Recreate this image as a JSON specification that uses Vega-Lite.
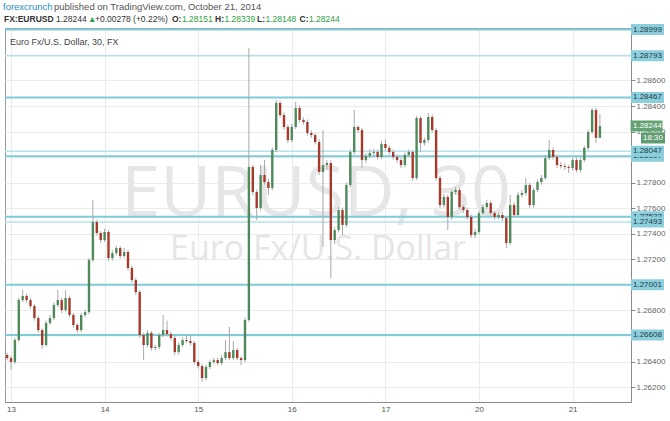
{
  "$schema": "https://vega.github.io/schema/vega-lite/v6.json",
  "width": 626,
  "height": 374,
  "padding": {"left": 5, "top": 28, "right": 39, "bottom": 19},
  "autosize": {"type": "none"},
  "background": "white",
  "config": {
    "view": {"stroke": "#9a9a9a", "strokeWidth": 1},
    "font": "Liberation Sans"
  },
  "datasets": {
    "candles": [
      {"t": -0.0417, "o": 1.26451, "h": 1.26470, "l": 1.26410, "c": 1.26427},
      {"t": 0.0000, "o": 1.26427, "h": 1.26445, "l": 1.26333, "c": 1.26396},
      {"t": 0.0417, "o": 1.26396, "h": 1.26585, "l": 1.26380, "c": 1.26568},
      {"t": 0.0833, "o": 1.26568, "h": 1.26900, "l": 1.26555, "c": 1.26881},
      {"t": 0.1250, "o": 1.26881, "h": 1.26960, "l": 1.26865, "c": 1.26913},
      {"t": 0.1667, "o": 1.26913, "h": 1.26930, "l": 1.26860, "c": 1.26881},
      {"t": 0.2083, "o": 1.26881, "h": 1.26895, "l": 1.26815, "c": 1.26834},
      {"t": 0.2500, "o": 1.26834, "h": 1.26850, "l": 1.26720, "c": 1.26740},
      {"t": 0.2917, "o": 1.26740, "h": 1.26755, "l": 1.26625, "c": 1.26646},
      {"t": 0.3333, "o": 1.26646, "h": 1.26660, "l": 1.26500, "c": 1.26529},
      {"t": 0.3750, "o": 1.26529, "h": 1.26720, "l": 1.26515, "c": 1.26701},
      {"t": 0.4167, "o": 1.26701, "h": 1.26765, "l": 1.26685, "c": 1.26740},
      {"t": 0.4583, "o": 1.26740, "h": 1.26860, "l": 1.26725, "c": 1.26842},
      {"t": 0.5000, "o": 1.26842, "h": 1.26960, "l": 1.26825, "c": 1.26881},
      {"t": 0.5417, "o": 1.26881, "h": 1.26900, "l": 1.26780, "c": 1.26803},
      {"t": 0.5833, "o": 1.26803, "h": 1.26960, "l": 1.26785, "c": 1.26897},
      {"t": 0.6250, "o": 1.26897, "h": 1.26915, "l": 1.26745, "c": 1.26764},
      {"t": 0.6667, "o": 1.26764, "h": 1.26780, "l": 1.26665, "c": 1.26686},
      {"t": 0.7083, "o": 1.26686, "h": 1.26700, "l": 1.26625, "c": 1.26646},
      {"t": 0.7500, "o": 1.26646, "h": 1.26780, "l": 1.26630, "c": 1.26764},
      {"t": 0.7917, "o": 1.26764, "h": 1.26805, "l": 1.26745, "c": 1.26787},
      {"t": 0.8333, "o": 1.26787, "h": 1.27210, "l": 1.26770, "c": 1.27194},
      {"t": 0.8750, "o": 1.27194, "h": 1.27664, "l": 1.27180, "c": 1.27492},
      {"t": 0.9167, "o": 1.27492, "h": 1.27510, "l": 1.27385, "c": 1.27406},
      {"t": 0.9583, "o": 1.27406, "h": 1.27420, "l": 1.27330, "c": 1.27351},
      {"t": 1.0000, "o": 1.27351, "h": 1.27440, "l": 1.27335, "c": 1.27414},
      {"t": 1.0417, "o": 1.27414, "h": 1.27430, "l": 1.27185, "c": 1.27210},
      {"t": 1.0833, "o": 1.27210, "h": 1.27270, "l": 1.27190, "c": 1.27249},
      {"t": 1.1250, "o": 1.27249, "h": 1.27310, "l": 1.27230, "c": 1.27288},
      {"t": 1.1667, "o": 1.27288, "h": 1.27305, "l": 1.27205, "c": 1.27226},
      {"t": 1.2083, "o": 1.27226, "h": 1.27290, "l": 1.27210, "c": 1.27257},
      {"t": 1.2500, "o": 1.27257, "h": 1.27275, "l": 1.27110, "c": 1.27132},
      {"t": 1.2917, "o": 1.27132, "h": 1.27150, "l": 1.27015, "c": 1.27038},
      {"t": 1.3333, "o": 1.27038, "h": 1.27055, "l": 1.26920, "c": 1.26944},
      {"t": 1.3750, "o": 1.26944, "h": 1.26960, "l": 1.26585, "c": 1.26607},
      {"t": 1.4167, "o": 1.26607, "h": 1.26625, "l": 1.26411, "c": 1.26529},
      {"t": 1.4583, "o": 1.26529, "h": 1.26645, "l": 1.26510, "c": 1.26623},
      {"t": 1.5000, "o": 1.26623, "h": 1.26640, "l": 1.26485, "c": 1.26506},
      {"t": 1.5417, "o": 1.26506, "h": 1.26530, "l": 1.26490, "c": 1.26513},
      {"t": 1.5833, "o": 1.26513, "h": 1.26625, "l": 1.26495, "c": 1.26607},
      {"t": 1.6250, "o": 1.26607, "h": 1.26764, "l": 1.26590, "c": 1.26646},
      {"t": 1.6667, "o": 1.26646, "h": 1.26720, "l": 1.26595, "c": 1.26615},
      {"t": 1.7083, "o": 1.26615, "h": 1.26635, "l": 1.26565, "c": 1.26584},
      {"t": 1.7500, "o": 1.26584, "h": 1.26600, "l": 1.26450, "c": 1.26474},
      {"t": 1.7917, "o": 1.26474, "h": 1.26550, "l": 1.26455, "c": 1.26529},
      {"t": 1.8333, "o": 1.26529, "h": 1.26590, "l": 1.26510, "c": 1.26568},
      {"t": 1.8750, "o": 1.26568, "h": 1.26610, "l": 1.26545, "c": 1.26560},
      {"t": 1.9167, "o": 1.26560, "h": 1.26600, "l": 1.26525, "c": 1.26545},
      {"t": 1.9583, "o": 1.26545, "h": 1.26560, "l": 1.26375, "c": 1.26396},
      {"t": 2.0000, "o": 1.26396, "h": 1.26415, "l": 1.26345, "c": 1.26364},
      {"t": 2.0417, "o": 1.26364, "h": 1.26380, "l": 1.26240, "c": 1.26271},
      {"t": 2.0833, "o": 1.26271, "h": 1.26375, "l": 1.26255, "c": 1.26357},
      {"t": 2.1250, "o": 1.26357, "h": 1.26415, "l": 1.26340, "c": 1.26396},
      {"t": 2.1667, "o": 1.26396, "h": 1.26430, "l": 1.26380, "c": 1.26411},
      {"t": 2.2083, "o": 1.26411, "h": 1.26430, "l": 1.26370, "c": 1.26388},
      {"t": 2.2500, "o": 1.26388, "h": 1.26450, "l": 1.26370, "c": 1.26427},
      {"t": 2.2917, "o": 1.26427, "h": 1.26568, "l": 1.26410, "c": 1.26474},
      {"t": 2.3333, "o": 1.26474, "h": 1.26670, "l": 1.26410, "c": 1.26427},
      {"t": 2.3750, "o": 1.26427, "h": 1.26560, "l": 1.26410, "c": 1.26490},
      {"t": 2.4167, "o": 1.26490, "h": 1.26505, "l": 1.26410, "c": 1.26427},
      {"t": 2.4583, "o": 1.26427, "h": 1.26445, "l": 1.26372, "c": 1.26411},
      {"t": 2.5000, "o": 1.26411, "h": 1.26745, "l": 1.26395, "c": 1.26725},
      {"t": 2.5417, "o": 1.26725, "h": 1.28854, "l": 1.26710, "c": 1.27923},
      {"t": 2.5833, "o": 1.27923, "h": 1.27940, "l": 1.27700, "c": 1.27727},
      {"t": 2.6250, "o": 1.27727, "h": 1.27745, "l": 1.27508, "c": 1.27602},
      {"t": 2.6667, "o": 1.27602, "h": 1.27938, "l": 1.27585, "c": 1.27860},
      {"t": 2.7083, "o": 1.27860, "h": 1.27977, "l": 1.27785, "c": 1.27805},
      {"t": 2.7500, "o": 1.27805, "h": 1.27830, "l": 1.27704, "c": 1.27758},
      {"t": 2.7917, "o": 1.27758, "h": 1.28075, "l": 1.27740, "c": 1.28056},
      {"t": 2.8333, "o": 1.28056, "h": 1.28447, "l": 1.28040, "c": 1.28424},
      {"t": 2.8750, "o": 1.28424, "h": 1.28440, "l": 1.28310, "c": 1.28330},
      {"t": 2.9167, "o": 1.28330, "h": 1.28350, "l": 1.28215, "c": 1.28236},
      {"t": 2.9583, "o": 1.28236, "h": 1.28255, "l": 1.28110, "c": 1.28134},
      {"t": 3.0000, "o": 1.28134, "h": 1.28260, "l": 1.28115, "c": 1.28236},
      {"t": 3.0417, "o": 1.28236, "h": 1.28432, "l": 1.28220, "c": 1.28385},
      {"t": 3.0833, "o": 1.28385, "h": 1.28405, "l": 1.28270, "c": 1.28291},
      {"t": 3.1250, "o": 1.28291, "h": 1.28310, "l": 1.28255, "c": 1.28275},
      {"t": 3.1667, "o": 1.28275, "h": 1.28295, "l": 1.28170, "c": 1.28189},
      {"t": 3.2083, "o": 1.28189, "h": 1.28210, "l": 1.28150, "c": 1.28173},
      {"t": 3.2500, "o": 1.28173, "h": 1.28190, "l": 1.28100, "c": 1.28118},
      {"t": 3.2917, "o": 1.28118, "h": 1.28140, "l": 1.27860, "c": 1.27884},
      {"t": 3.3333, "o": 1.27884, "h": 1.28212, "l": 1.27296, "c": 1.27938},
      {"t": 3.3750, "o": 1.27938, "h": 1.27975, "l": 1.27900, "c": 1.27954},
      {"t": 3.4167, "o": 1.27954, "h": 1.27975, "l": 1.27054, "c": 1.27351},
      {"t": 3.4583, "o": 1.27351, "h": 1.27450, "l": 1.27320, "c": 1.27429},
      {"t": 3.5000, "o": 1.27429, "h": 1.27610, "l": 1.27410, "c": 1.27586},
      {"t": 3.5417, "o": 1.27586, "h": 1.27605, "l": 1.27390, "c": 1.27469},
      {"t": 3.5833, "o": 1.27469, "h": 1.27800, "l": 1.27450, "c": 1.27782},
      {"t": 3.6250, "o": 1.27782, "h": 1.28060, "l": 1.27765, "c": 1.28040},
      {"t": 3.6667, "o": 1.28040, "h": 1.28369, "l": 1.28020, "c": 1.28236},
      {"t": 3.7083, "o": 1.28236, "h": 1.28250, "l": 1.28190, "c": 1.28212},
      {"t": 3.7500, "o": 1.28212, "h": 1.28230, "l": 1.27915, "c": 1.27977},
      {"t": 3.7917, "o": 1.27977, "h": 1.28030, "l": 1.27955, "c": 1.28009},
      {"t": 3.8333, "o": 1.28009, "h": 1.28060, "l": 1.27990, "c": 1.28032},
      {"t": 3.8750, "o": 1.28032, "h": 1.28065, "l": 1.28015, "c": 1.28040},
      {"t": 3.9167, "o": 1.28040, "h": 1.28060, "l": 1.27980, "c": 1.28001},
      {"t": 3.9583, "o": 1.28001, "h": 1.28125, "l": 1.27985, "c": 1.28103},
      {"t": 4.0000, "o": 1.28103, "h": 1.28140, "l": 1.28050, "c": 1.28072},
      {"t": 4.0417, "o": 1.28072, "h": 1.28090, "l": 1.28020, "c": 1.28040},
      {"t": 4.0833, "o": 1.28040, "h": 1.28060, "l": 1.27980, "c": 1.28001},
      {"t": 4.1250, "o": 1.28001, "h": 1.28020, "l": 1.27955, "c": 1.27977},
      {"t": 4.1667, "o": 1.27977, "h": 1.27995, "l": 1.27915, "c": 1.27938},
      {"t": 4.2083, "o": 1.27938, "h": 1.28035, "l": 1.27920, "c": 1.28017},
      {"t": 4.2500, "o": 1.28017, "h": 1.28060, "l": 1.28000, "c": 1.28040},
      {"t": 4.2917, "o": 1.28040, "h": 1.28055, "l": 1.27815, "c": 1.27837},
      {"t": 4.3333, "o": 1.27837, "h": 1.28325, "l": 1.27820, "c": 1.28306},
      {"t": 4.3750, "o": 1.28306, "h": 1.28320, "l": 1.28040, "c": 1.28111},
      {"t": 4.4167, "o": 1.28111, "h": 1.28155, "l": 1.28090, "c": 1.28134},
      {"t": 4.4583, "o": 1.28134, "h": 1.28346, "l": 1.28115, "c": 1.28314},
      {"t": 4.5000, "o": 1.28314, "h": 1.28335, "l": 1.28190, "c": 1.28212},
      {"t": 4.5417, "o": 1.28212, "h": 1.28230, "l": 1.27815, "c": 1.27837},
      {"t": 4.5833, "o": 1.27837, "h": 1.27855, "l": 1.27600, "c": 1.27625},
      {"t": 4.6250, "o": 1.27625, "h": 1.27710, "l": 1.27605, "c": 1.27688},
      {"t": 4.6667, "o": 1.27688, "h": 1.27705, "l": 1.27429, "c": 1.27531},
      {"t": 4.7083, "o": 1.27531, "h": 1.27745, "l": 1.27510, "c": 1.27727},
      {"t": 4.7500, "o": 1.27727, "h": 1.27765, "l": 1.27705, "c": 1.27743},
      {"t": 4.7917, "o": 1.27743, "h": 1.27760, "l": 1.27590, "c": 1.27609},
      {"t": 4.8333, "o": 1.27609, "h": 1.27625, "l": 1.27565, "c": 1.27586},
      {"t": 4.8750, "o": 1.27586, "h": 1.27605, "l": 1.27510, "c": 1.27531},
      {"t": 4.9167, "o": 1.27531, "h": 1.27550, "l": 1.27370, "c": 1.27390},
      {"t": 4.9583, "o": 1.27390, "h": 1.27440, "l": 1.27365, "c": 1.27414},
      {"t": 5.0000, "o": 1.27414, "h": 1.27580, "l": 1.27395, "c": 1.27562},
      {"t": 5.0417, "o": 1.27562, "h": 1.27630, "l": 1.27545, "c": 1.27609},
      {"t": 5.0833, "o": 1.27609, "h": 1.27665, "l": 1.27590, "c": 1.27641},
      {"t": 5.1250, "o": 1.27641, "h": 1.27660, "l": 1.27545, "c": 1.27562},
      {"t": 5.1667, "o": 1.27562, "h": 1.27580, "l": 1.27510, "c": 1.27531},
      {"t": 5.2083, "o": 1.27531, "h": 1.27565, "l": 1.27515, "c": 1.27547},
      {"t": 5.2500, "o": 1.27547, "h": 1.27570, "l": 1.27500, "c": 1.27523},
      {"t": 5.2917, "o": 1.27523, "h": 1.27540, "l": 1.27288, "c": 1.27328},
      {"t": 5.3333, "o": 1.27328, "h": 1.27704, "l": 1.27310, "c": 1.27625},
      {"t": 5.3750, "o": 1.27625, "h": 1.27645, "l": 1.27525, "c": 1.27547},
      {"t": 5.4167, "o": 1.27547, "h": 1.27725, "l": 1.27530, "c": 1.27704},
      {"t": 5.4583, "o": 1.27704, "h": 1.27740, "l": 1.27685, "c": 1.27719},
      {"t": 5.5000, "o": 1.27719, "h": 1.27837, "l": 1.27700, "c": 1.27782},
      {"t": 5.5417, "o": 1.27782, "h": 1.27800, "l": 1.27605, "c": 1.27625},
      {"t": 5.5833, "o": 1.27625, "h": 1.27760, "l": 1.27605, "c": 1.27743},
      {"t": 5.6250, "o": 1.27743, "h": 1.27825, "l": 1.27725, "c": 1.27805},
      {"t": 5.6667, "o": 1.27805, "h": 1.27860, "l": 1.27785, "c": 1.27837},
      {"t": 5.7083, "o": 1.27837, "h": 1.28015, "l": 1.27820, "c": 1.27993},
      {"t": 5.7500, "o": 1.27993, "h": 1.28134, "l": 1.27975, "c": 1.28056},
      {"t": 5.7917, "o": 1.28056, "h": 1.28075, "l": 1.27980, "c": 1.28001},
      {"t": 5.8333, "o": 1.28001, "h": 1.28020, "l": 1.27915, "c": 1.27938},
      {"t": 5.8750, "o": 1.27938, "h": 1.27960, "l": 1.27910, "c": 1.27930},
      {"t": 5.9167, "o": 1.27930, "h": 1.27950, "l": 1.27900, "c": 1.27923},
      {"t": 5.9583, "o": 1.27923, "h": 1.27940, "l": 1.27876, "c": 1.27915},
      {"t": 6.0000, "o": 1.27915, "h": 1.27995, "l": 1.27895, "c": 1.27977},
      {"t": 6.0417, "o": 1.27977, "h": 1.27995, "l": 1.27880, "c": 1.27899},
      {"t": 6.0833, "o": 1.27899, "h": 1.27995, "l": 1.27880, "c": 1.27977},
      {"t": 6.1250, "o": 1.27977, "h": 1.28090, "l": 1.27960, "c": 1.28072},
      {"t": 6.1667, "o": 1.28072, "h": 1.28215, "l": 1.28055, "c": 1.28197},
      {"t": 6.2083, "o": 1.28197, "h": 1.28385, "l": 1.28180, "c": 1.28369},
      {"t": 6.2500, "o": 1.28369, "h": 1.28385, "l": 1.28111, "c": 1.28151},
      {"t": 6.2917, "o": 1.28151, "h": 1.28339, "l": 1.28148, "c": 1.28244}
    ],
    "levels": [
      {"level": 1.28999, "kind": "major"},
      {"level": 1.28793, "kind": "minor"},
      {"level": 1.28467, "kind": "major"},
      {"level": 1.28047, "kind": "minor"},
      {"level": 1.28007, "kind": "major"},
      {"level": 1.27533, "kind": "major"},
      {"level": 1.27493, "kind": "minor"},
      {"level": 1.27001, "kind": "major"},
      {"level": 1.26608, "kind": "major"}
    ],
    "last": [{"price": 1.28244, "time": "18:30"}]
  },
  "data": {"values": [{}]},
  "layer": [
    {
      "mark": {"type": "text", "text": "EURUSD, 30", "font": "Open Sans", "fontSize": 70, "color": "#e6e6e6", "align": "center", "baseline": "middle"},
      "encoding": {
        "x": {"datum": 3.26, "type": "quantitative", "title": null, "scale": {"domain": [-0.0641, 6.6239], "nice": false, "zero": false},
          "axis": {"values": [0, 1, 2, 3, 4, 5, 6], "labelExpr": "['13','14','15','16','17','20','21'][datum.value]", "grid": true, "gridColor": "#ebebeb", "ticks": false, "domainColor": "#8a8a8a", "labelColor": "#555555", "labelFontSize": 8, "labelPadding": 3, "labelFont": "Liberation Sans", "title": null}},
        "y": {"datum": 1.27700, "type": "quantitative", "title": null, "scale": {"domain": [1.26083, 1.29011], "nice": false, "zero": false},
          "axis": {"orient": "right", "values": [1.262, 1.264, 1.268, 1.272, 1.274, 1.276, 1.278, 1.282, 1.284, 1.286], "format": ".5f", "grid": true, "gridColor": "#ebebeb", "tickColor": "#8a8a8a", "tickSize": 4, "domainColor": "#8a8a8a", "labelColor": "#666666", "labelFontSize": 8, "labelPadding": 1, "labelFont": "Liberation Sans", "title": null}}
      }
    },
    {
      "mark": {"type": "text", "text": "Euro Fx/U.S. Dollar", "font": "Open Sans", "fontSize": 34, "color": "#e6e6e6", "align": "center", "baseline": "middle"},
      "encoding": {
        "x": {"datum": 3.28, "type": "quantitative"},
        "y": {"datum": 1.27270, "type": "quantitative"}
      }
    },
    {
      "data": {"values": [{"g": 1.266}, {"g": 1.270}, {"g": 1.280}, {"g": 1.288}]},
      "mark": {"type": "rule", "color": "#ebebeb", "strokeWidth": 1},
      "encoding": {"y": {"field": "g", "type": "quantitative"}}
    },
    {
      "data": {"name": "levels"},
      "transform": [{"filter": "datum.kind == 'major'"}],
      "mark": {"type": "rule", "color": "#7ecbd9", "strokeWidth": 2},
      "encoding": {"y": {"field": "level", "type": "quantitative"}}
    },
    {
      "data": {"name": "levels"},
      "transform": [{"filter": "datum.kind == 'minor'"}],
      "mark": {"type": "rule", "color": "#b5e2ea", "strokeWidth": 1.5},
      "encoding": {"y": {"field": "level", "type": "quantitative"}}
    },
    {
      "mark": {"type": "text", "text": "Euro Fx/U.S. Dollar, 30, FX", "fontSize": 9, "color": "#444444", "align": "left", "baseline": "middle"},
      "encoding": {
        "x": {"datum": -0.0107, "type": "quantitative"},
        "y": {"datum": 1.28901, "type": "quantitative"}
      }
    },
    {
      "data": {"name": "candles"},
      "mark": {"type": "rule", "color": "#a8a8a8", "strokeWidth": 1},
      "encoding": {
        "x": {"field": "t", "type": "quantitative"},
        "y": {"field": "l", "type": "quantitative"},
        "y2": {"field": "h"}
      }
    },
    {
      "data": {"name": "candles"},
      "mark": {"type": "rule", "strokeWidth": 2.4},
      "encoding": {
        "x": {"field": "t", "type": "quantitative"},
        "y": {"field": "o", "type": "quantitative"},
        "y2": {"field": "c"},
        "color": {"condition": {"test": "datum.c >= datum.o", "value": "#4f8a5c"}, "value": "#a7392b"}
      }
    },
    {
      "data": {"name": "levels"},
      "transform": [{"filter": "datum.kind == 'major'"}],
      "layer": [
        {
          "mark": {"type": "tick", "orient": "horizontal", "size": 33, "thickness": 11, "color": "#8ccfdc", "opacity": 1},
          "encoding": {"x": {"datum": 6.80, "type": "quantitative"}, "y": {"field": "level", "type": "quantitative"}}
        },
        {
          "mark": {"type": "text", "fontSize": 8, "color": "#1f3c48", "align": "left", "baseline": "middle"},
          "encoding": {"x": {"datum": 6.645, "type": "quantitative"}, "y": {"field": "level", "type": "quantitative"}, "text": {"field": "level", "type": "quantitative", "format": ".5f"}}
        }
      ]
    },
    {
      "data": {"name": "levels"},
      "transform": [{"filter": "datum.kind == 'minor'"}],
      "layer": [
        {
          "mark": {"type": "tick", "orient": "horizontal", "size": 33, "thickness": 11, "color": "#8ccfdc", "opacity": 1},
          "encoding": {"x": {"datum": 6.80, "type": "quantitative"}, "y": {"field": "level", "type": "quantitative"}}
        },
        {
          "mark": {"type": "text", "fontSize": 8, "color": "#1f3c48", "align": "left", "baseline": "middle"},
          "encoding": {"x": {"datum": 6.645, "type": "quantitative"}, "y": {"field": "level", "type": "quantitative"}, "text": {"field": "level", "type": "quantitative", "format": ".5f"}}
        }
      ]
    },
    {
      "data": {"name": "last"},
      "layer": [
        {
          "mark": {"type": "tick", "orient": "horizontal", "size": 32, "thickness": 11, "color": "#64a274", "opacity": 1},
          "encoding": {"x": {"datum": 6.790, "type": "quantitative"}, "y": {"field": "price", "type": "quantitative"}}
        },
        {
          "mark": {"type": "text", "fontSize": 8, "color": "white", "align": "left", "baseline": "middle"},
          "encoding": {"x": {"datum": 6.645, "type": "quantitative"}, "y": {"field": "price", "type": "quantitative"}, "text": {"field": "price", "type": "quantitative", "format": ".5f"}}
        },
        {
          "mark": {"type": "tick", "orient": "horizontal", "size": 24, "thickness": 11, "color": "#5f9c6f", "opacity": 1, "yOffset": 12},
          "encoding": {"x": {"datum": 6.859, "type": "quantitative"}, "y": {"field": "price", "type": "quantitative"}}
        },
        {
          "mark": {"type": "text", "fontSize": 8, "color": "white", "align": "center", "baseline": "middle", "yOffset": 12},
          "encoding": {"x": {"datum": 6.859, "type": "quantitative"}, "y": {"field": "price", "type": "quantitative"}, "text": {"field": "time"}}
        }
      ]
    },
    {
      "mark": {"type": "text", "text": "forexcrunch", "fontSize": 9.5, "color": "#2b8cc4", "align": "left", "baseline": "middle"},
      "encoding": {"x": {"datum": -0.0855, "type": "quantitative"}, "y": {"datum": 1.29175, "type": "quantitative"}}
    },
    {
      "mark": {"type": "text", "text": "published on TradingView.com, October 21, 2014", "fontSize": 9.5, "color": "#555555", "align": "left", "baseline": "middle"},
      "encoding": {"x": {"datum": 0.4594, "type": "quantitative"}, "y": {"datum": 1.29175, "type": "quantitative"}}
    },
    {
      "mark": {"type": "text", "text": "FX:EURUSD", "fontSize": 8.5, "fontWeight": "bold", "color": "#333333", "align": "left", "baseline": "middle"},
      "encoding": {"x": {"datum": -0.0748, "type": "quantitative"}, "y": {"datum": 1.29081, "type": "quantitative"}}
    },
    {
      "mark": {"type": "text", "text": "1.28244", "fontSize": 8.5, "color": "#333333", "align": "left", "baseline": "middle"},
      "encoding": {"x": {"datum": 0.4808, "type": "quantitative"}, "y": {"datum": 1.29081, "type": "quantitative"}}
    },
    {
      "mark": {"type": "text", "text": "▲", "fontSize": 8.5, "color": "#2ea043", "align": "left", "baseline": "middle"},
      "encoding": {"x": {"datum": 0.8226, "type": "quantitative"}, "y": {"datum": 1.29081, "type": "quantitative"}}
    },
    {
      "mark": {"type": "text", "text": "+0.00278 (+0.22%)", "fontSize": 8.5, "color": "#333333", "align": "left", "baseline": "middle"},
      "encoding": {"x": {"datum": 0.8974, "type": "quantitative"}, "y": {"datum": 1.29081, "type": "quantitative"}}
    },
    {
      "mark": {"type": "text", "text": "O:", "fontSize": 8.5, "fontWeight": "bold", "color": "#333333", "align": "left", "baseline": "middle"},
      "encoding": {"x": {"datum": 1.7201, "type": "quantitative"}, "y": {"datum": 1.29081, "type": "quantitative"}}
    },
    {
      "mark": {"type": "text", "text": "1.28151", "fontSize": 8.5, "color": "#2ea043", "align": "left", "baseline": "middle"},
      "encoding": {"x": {"datum": 1.8269, "type": "quantitative"}, "y": {"datum": 1.29081, "type": "quantitative"}}
    },
    {
      "mark": {"type": "text", "text": "H:", "fontSize": 8.5, "fontWeight": "bold", "color": "#333333", "align": "left", "baseline": "middle"},
      "encoding": {"x": {"datum": 2.1795, "type": "quantitative"}, "y": {"datum": 1.29081, "type": "quantitative"}}
    },
    {
      "mark": {"type": "text", "text": "1.28339", "fontSize": 8.5, "color": "#2ea043", "align": "left", "baseline": "middle"},
      "encoding": {"x": {"datum": 2.2810, "type": "quantitative"}, "y": {"datum": 1.29081, "type": "quantitative"}}
    },
    {
      "mark": {"type": "text", "text": "L:", "fontSize": 8.5, "fontWeight": "bold", "color": "#333333", "align": "left", "baseline": "middle"},
      "encoding": {"x": {"datum": 2.6282, "type": "quantitative"}, "y": {"datum": 1.29081, "type": "quantitative"}}
    },
    {
      "mark": {"type": "text", "text": "1.28148", "fontSize": 8.5, "color": "#2ea043", "align": "left", "baseline": "middle"},
      "encoding": {"x": {"datum": 2.7190, "type": "quantitative"}, "y": {"datum": 1.29081, "type": "quantitative"}}
    },
    {
      "mark": {"type": "text", "text": "C:", "fontSize": 8.5, "fontWeight": "bold", "color": "#333333", "align": "left", "baseline": "middle"},
      "encoding": {"x": {"datum": 3.0823, "type": "quantitative"}, "y": {"datum": 1.29081, "type": "quantitative"}}
    },
    {
      "mark": {"type": "text", "text": "1.28244", "fontSize": 8.5, "color": "#2ea043", "align": "left", "baseline": "middle"},
      "encoding": {"x": {"datum": 3.1838, "type": "quantitative"}, "y": {"datum": 1.29081, "type": "quantitative"}}
    }
  ]
}
